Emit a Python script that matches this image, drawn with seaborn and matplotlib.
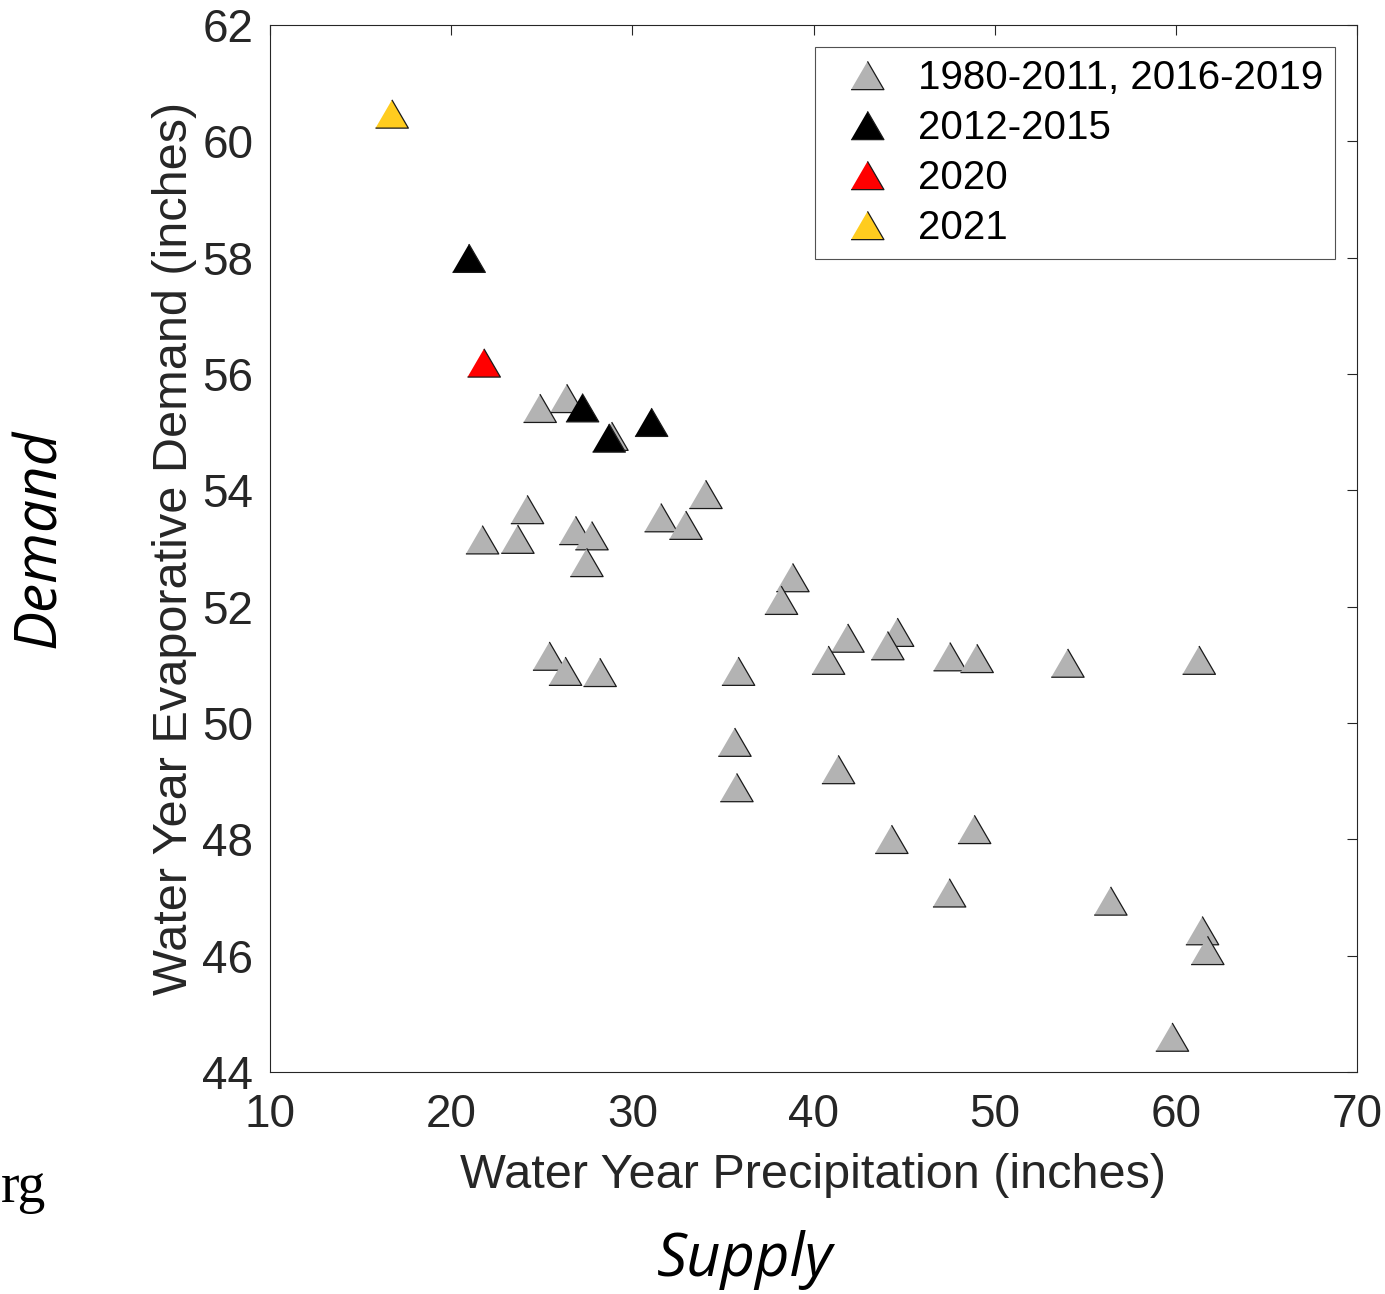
import matplotlib
matplotlib.use("Agg")
import matplotlib.pyplot as plt
import seaborn as sns
import pandas as pd

# ---- data ----
gray_precip = [24.90, 26.38, 28.86, 24.20, 21.72, 23.67, 26.87, 27.76, 27.48, 31.58,
               32.95, 34.05, 25.42, 26.30, 28.21, 35.85, 38.85, 38.22, 41.89, 40.82,
               44.63, 44.09, 47.53, 49.02, 54.03, 35.65, 35.76, 41.37, 48.88, 44.31,
               61.28, 47.50, 56.40, 61.46, 61.75, 59.80]
gray_demand = [55.41, 55.58, 54.93, 53.67, 53.15, 53.16, 53.31, 53.22, 52.76, 53.53,
               53.40, 53.93, 51.15, 50.89, 50.87, 50.89, 52.50, 52.11, 51.46, 51.08,
               51.56, 51.33, 51.14, 51.11, 51.03, 49.67, 48.89, 49.20, 48.17, 48.00,
               51.08, 47.08, 46.94, 46.43, 46.09, 44.60]
black_precip = [20.98, 27.24, 28.71, 31.05]
black_demand = [57.99, 55.42, 54.90, 55.17]
red_precip = [21.81]
red_demand = [56.19]
yellow_precip = [16.73]
yellow_demand = [60.47]

group_labels = ["1980-2011, 2016-2019", "2012-2015", "2020", "2021"]
group_colors = ["#b3b3b3", "#000000", "#ff0000", "#ffcc1f"]

x_ticks = [10, 20, 30, 40, 50, 60, 70]
y_ticks = [44, 46, 48, 50, 52, 54, 56, 58, 60, 62]
x_label = "Water Year Precipitation (inches)"
y_label = "Water Year Evaporative Demand (inches)"

# ---- build table ----
frames = []
for lab, xs, ys in zip(group_labels,
                       [gray_precip, black_precip, red_precip, yellow_precip],
                       [gray_demand, black_demand, red_demand, yellow_demand]):
    frames.append(pd.DataFrame({"precip": xs, "demand": ys, "group": lab}))
df = pd.concat(frames, ignore_index=True)

sns.set_theme(style="white")
plt.rcParams["font.family"] = ["Liberation Sans", "DejaVu Sans"]

W, H = 1385, 1294
fig = plt.figure(figsize=(W / 100, H / 100), dpi=100)
ax = fig.add_axes([270 / W, 1 - 1072 / H, 1087 / W, 1047 / H])

tri = [(-1, -0.86), (1, -0.86), (0, 0.86)]
sns.scatterplot(data=df, x="precip", y="demand", hue="group",
                hue_order=group_labels, palette=dict(zip(group_labels, group_colors)),
                marker=tri, s=560, edgecolor="#1a1a1a", linewidth=0.9,
                ax=ax, zorder=3)

ax.set_xlim(10, 70)
ax.set_ylim(44, 62)
ax.set_xticks(x_ticks)
ax.set_yticks(y_ticks)
ax.tick_params(direction="in", length=7, width=0.8, top=True, right=True,
               labelsize=33, colors="#262626")
ax.tick_params(axis="x", pad=15)
ax.tick_params(axis="y", pad=12)
for sp in ax.spines.values():
    sp.set_visible(True)
    sp.set_color("#262626")
    sp.set_linewidth(0.8)
ax.set_xlabel(x_label, fontsize=35, color="#262626", labelpad=12)
ax.set_ylabel(y_label, fontsize=35, color="#262626", labelpad=4)

leg = ax.legend(loc="upper right", bbox_to_anchor=(0.9798, 0.979), borderaxespad=0,
                fontsize=29, frameon=True, fancybox=False, edgecolor="#262626",
                handletextpad=0.25, labelspacing=0.3, borderpad=0.3,
                markerscale=1.0)
leg.get_frame().set_linewidth(0.8)
for t in leg.get_texts():
    t.set_color("black")

# annotations outside the axes
fig.text(40 / W, 1 - 538 / H, "Demand", rotation=90, fontsize=42, style="italic",
         family=["Open Sans", "DejaVu Sans"], ha="center", va="center", color="black")
fig.text(745 / W, 1 - 1260 / H, "Supply", fontsize=43, style="italic",
         family=["Open Sans", "DejaVu Sans"], ha="center", va="center", color="black")
fig.text(1 / W, 1 - 1188 / H, "rg", fontsize=40,
         family=["Liberation Serif", "DejaVu Serif"], ha="left", va="center", color="black")

fig.savefig("out.png", dpi=100)
